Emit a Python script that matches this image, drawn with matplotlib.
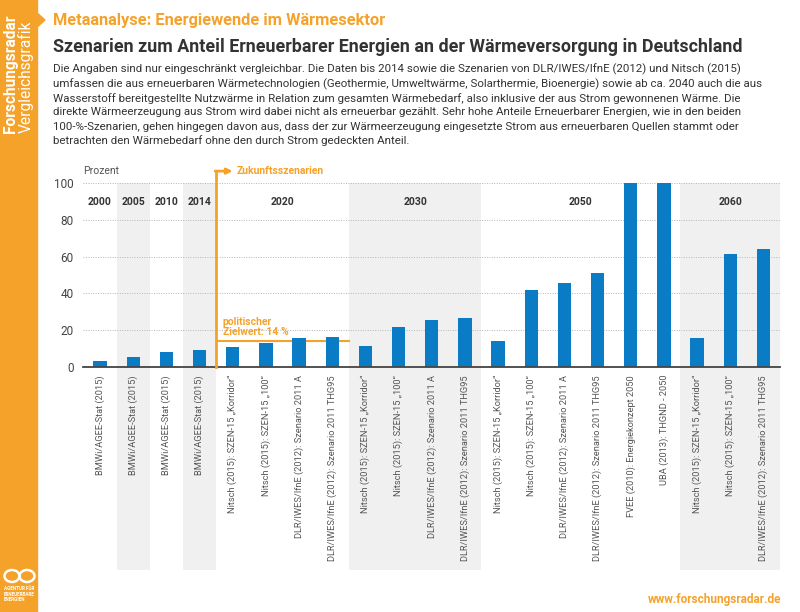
import matplotlib.pyplot as plt
from matplotlib.patches import Rectangle, Polygon, Ellipse

plt.rcParams['font.family'] = ['Roboto', 'DejaVu Sans']

ORANGE = "#F5A22B"
BLUE = "#0A7BC5"
DARK = "#333333"
GRAY = "#555555"
BAND = "#F0F0F0"

# data
nitsch_k = "Nitsch (2015): SZEN-15 \u201eKorridor\u201c"
nitsch_100 = "Nitsch (2015): SZEN-15 \u201e100\u201c"
dlr_a = "DLR/IWES/IfnE (2012): Szenario 2011 A"
dlr_thg = "DLR/IWES/IfnE (2012): Szenario 2011 THG95"
bmwi = "BMWi/AGEE-Stat (2015)"

labels = [
    bmwi, bmwi, bmwi, bmwi,
    nitsch_k, nitsch_100, dlr_a, dlr_thg,
    nitsch_k, nitsch_100, dlr_a, dlr_thg,
    nitsch_k, nitsch_100, dlr_a, dlr_thg,
    "FVEE (2010): Energiekonzept 2050", "UBA (2013): THGND - 2050",
    nitsch_k, nitsch_100, dlr_thg,
]
values = [3.6, 5.6, 8.5, 9.4,
          10.8, 13.4, 15.9, 16.2,
          11.4, 21.8, 25.5, 26.7,
          14.1, 41.9, 45.8, 51.1, 100, 100,
          15.9, 61.2, 64.1]
years = ["2000", "2005", "2010", "2014", "2020", "2030", "2050", "2060"]
group_sizes = [1, 1, 1, 1, 4, 4, 6, 3]
shaded = [False, True, False, True, False, True, False, True]
target_value = 14
yticks = [0, 20, 40, 60, 80, 100]

paragraph = [
    "Die Angaben sind nur eingeschränkt vergleichbar. Die Daten bis 2014 sowie die Szenarien von DLR/IWES/IfnE (2012) und Nitsch (2015)",
    "umfassen die aus erneuerbaren Wärmetechnologien (Geothermie, Umweltwärme, Solarthermie, Bioenergie) sowie ab ca. 2040 auch die aus",
    "Wasserstoff bereitgestellte Nutzwärme in Relation zum gesamten Wärmebedarf, also inklusive der aus Strom gewonnenen Wärme. Die",
    "direkte Wärmeerzeugung aus Strom wird dabei nicht als erneuerbar gezählt. Sehr hohe Anteile Erneuerbarer Energien, wie in den beiden",
    "100-%-Szenarien, gehen hingegen davon aus, dass der zur Wärmeerzeugung eingesetzte Strom aus erneuerbaren Quellen stammt oder",
    "betrachten den Wärmebedarf ohne den durch Strom gedeckten Anteil.",
]


def px(x, y):
    """pixel position (from top left) to figure fraction"""
    return x / 800, 1 - y / 612


fig = plt.figure(figsize=(8, 6.12), dpi=100)

# sidebar
fig.patches.append(Rectangle((0, 0), 37 / 800, 1, transform=fig.transFigure,
                             color=ORANGE, zorder=0))
fig.patches.append(Polygon([px(36, 12), px(45, 20), px(36, 28)], closed=True,
                           transform=fig.transFigure, color=ORANGE, zorder=0))
fig.text(*px(11, 133), "Forschungsradar", rotation=90, ha='center', va='bottom',
         color='white', fontsize=11.2, fontweight='bold')
fig.text(*px(26, 133), "Vergleichsgrafik", rotation=90, ha='center', va='bottom',
         color='white', fontsize=11.2)

# logo (two loops + name)
for cx in (12, 27):
    fig.patches.append(Ellipse(px(cx, 576), 15 / 800, 12 / 612, transform=fig.transFigure,
                               fill=False, edgecolor='white', lw=1.8, zorder=1))
fig.text(*px(4, 594), "AGENTUR FÜR\nERNEUERBARE\nENERGIEN", ha='left', va='center',
         color='white', fontsize=3.3, fontweight='bold', linespacing=1.1)

# header
fig.text(*px(53, 21), "Metaanalyse: Energiewende im Wärmesektor", ha='left', va='center',
         color=ORANGE, fontsize=11.75, fontweight='bold')
fig.text(*px(53, 47), "Szenarien zum Anteil Erneuerbarer Energien an der Wärmeversorgung in Deutschland",
         ha='left', va='center', color=DARK, fontsize=12.85, fontweight='bold')
for i, line in enumerate(paragraph):
    fig.text(*px(53, 69.5 + i * 14.3), line, ha='left', va='center', color=DARK, fontsize=8.25)

fig.text(*px(781, 600), "www.forschungsradar.de", ha='right', va='center',
         color=ORANGE, fontsize=8.5, fontweight='bold')

# chart
ax = fig.add_axes([0.1043, 0.3998, 0.8707, 0.3016])
x = list(range(len(values)))
ax.set_xlim(-0.5, len(values) - 0.5)
ax.set_ylim(0, 100)

start = 0
for year, n, sh in zip(years, group_sizes, shaded):
    if sh:
        ax.axvspan(start - 0.5, start + n - 0.5, ymin=-1.098, ymax=1, color=BAND,
                   zorder=0, clip_on=False, lw=0)
    ax.text(start + (n - 1) / 2, 89.7, year, ha='center', va='center',
            fontsize=7.5, fontweight='bold', color=DARK)
    start += n

ax.bar(x, values, width=0.4, color=BLUE, zorder=3)

ax.set_yticks(yticks)
ax.grid(axis='y', color='#b5b5b5', linestyle=(0, (1, 1.5)), lw=0.7, zorder=1)
ax.set_axisbelow(True)
ax.axhline(0, color='#444444', lw=1.3, zorder=4, clip_on=False)
for s in ax.spines.values():
    s.set_visible(False)
ax.set_facecolor('none')

ax.set_xticks(x)
ax.set_xticklabels(labels, rotation=90, fontsize=6.7, color=GRAY)
ax.tick_params(axis='x', length=0, pad=5.5)
ax.tick_params(axis='y', length=0, pad=7, labelsize=8.5, labelcolor='#444444')

fig.text(*px(83.5, 171), "Prozent", ha='left', va='center', color=GRAY, fontsize=7.5)

# future scenarios marker
ax.plot([3.5, 3.5], [0, 106.3], color=ORANGE, lw=2, clip_on=False, zorder=5)
ax.annotate('', xy=(4.0, 106.3), xytext=(3.47, 106.3),
            arrowprops=dict(arrowstyle='-|>', color=ORANGE, lw=2, mutation_scale=8,
                            shrinkA=0, shrinkB=0),
            annotation_clip=False)
ax.text(4.12, 106.3, "Zukunftsszenarien", ha='left', va='center', color=ORANGE,
        fontsize=7.5, fontweight='bold', clip_on=False)

# political target
ax.plot([3.55, 7.5], [target_value, target_value], color=ORANGE, lw=1.5, zorder=2)
ax.text(3.7, 16.2, "politischer\nZielwert: 14 %", ha='left', va='bottom', color=ORANGE,
        fontsize=7.5, fontweight='bold', linespacing=1.05)

fig.savefig("out.png", dpi=100)
